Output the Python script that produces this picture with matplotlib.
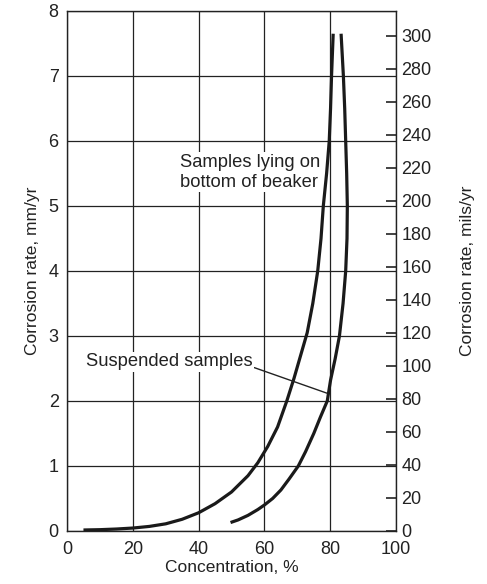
import matplotlib
matplotlib.use("Agg")
import matplotlib.pyplot as plt

plt.rcParams["font.family"] = ["Liberation Sans", "DejaVu Sans"]

# Curves: concentration (%) vs corrosion rate (mm/yr)
lying_conc = [5, 10, 15, 20, 25, 30, 35, 40, 45, 50, 55, 58, 61, 64, 66.8, 69, 71, 73,
              74.7, 76.2, 77.2, 77.9, 78.9, 79.7, 80.1, 80.4, 80.9]
lying_rate = [0.015, 0.02, 0.03, 0.045, 0.07, 0.11, 0.18, 0.28, 0.42, 0.6, 0.85, 1.05, 1.3,
              1.6, 2.0, 2.35, 2.7, 3.05, 3.5, 4.0, 4.5, 5.0, 5.5, 6.0, 6.5, 7.0, 7.65]

susp_conc = [49.7, 52, 55, 58, 60, 62.5, 65, 67.5, 70.3, 72.5, 75, 77, 79.1, 80.1, 81.5,
             82.8, 83.9, 84.7, 85.1, 85.2, 85.0, 84.7, 84.4, 84.0, 83.3]
susp_rate = [0.13, 0.17, 0.24, 0.33, 0.40, 0.5, 0.63, 0.8, 1.0, 1.22, 1.5, 1.75, 2.0, 2.32,
             2.65, 3.0, 3.5, 4.0, 4.5, 5.0, 5.5, 6.0, 6.5, 7.0, 7.65]

x_ticks = [0, 20, 40, 60, 80, 100]
mm_ticks = [0, 1, 2, 3, 4, 5, 6, 7, 8]
mils_ticks = list(range(0, 301, 20))
MM_PER_MIL = 0.0254

fig = plt.figure(figsize=(4.87, 5.84), dpi=100)
ax = fig.add_axes([0.1376, 0.0908, 0.6756, 0.8904])

ax.plot(lying_conc, lying_rate, color="#1a1a1a", lw=2.3, solid_capstyle="butt")
ax.plot(susp_conc, susp_rate, color="#1a1a1a", lw=2.3, solid_capstyle="butt")

ax.set_xlim(0, 100)
ax.set_ylim(0, 8)
ax.set_xticks(x_ticks)
ax.set_yticks(mm_ticks)
ax.grid(True, color="#222222", lw=0.9)
ax.set_axisbelow(True)
ax.tick_params(axis="both", length=0, labelsize=13, colors="#222222")
ax.tick_params(axis="x", pad=7)
ax.tick_params(axis="y", pad=6)
for s in ax.spines.values():
    s.set_color("#222222")
    s.set_linewidth(1.0)

ax.set_xlabel("Concentration, %", fontsize=12.5, color="#222222", labelpad=2)
ax.set_ylabel("Corrosion rate, mm/yr", fontsize=12.5, color="#222222", labelpad=6)

ax2 = ax.twinx()
ax2.set_ylim(0, 8 / MM_PER_MIL)
ax2.set_yticks(mils_ticks)
ax2.tick_params(axis="y", direction="in", length=7, width=1.2, pad=4, labelsize=13, colors="#222222")
ax2.set_ylabel("Corrosion rate, mils/yr", fontsize=12.5, color="#222222", labelpad=20)
for s in ax2.spines.values():
    s.set_visible(False)

box = dict(facecolor="white", edgecolor="none", pad=1)
ax.text(34.3, 5.52, "Samples lying on\nbottom of beaker", fontsize=13.2, color="#222222",
        va="center", ha="left", linespacing=1.25, bbox=box)
ax.annotate("Suspended samples", xy=(79.0, 2.12), xytext=(5.8, 2.6),
            fontsize=13.2, color="#222222", va="center", ha="left", bbox=box,
            arrowprops=dict(arrowstyle="-", color="#222222", lw=1.0,
                            shrinkA=0, shrinkB=0, relpos=(1.0, 0.2)))

fig.savefig("out.png", dpi=100)
